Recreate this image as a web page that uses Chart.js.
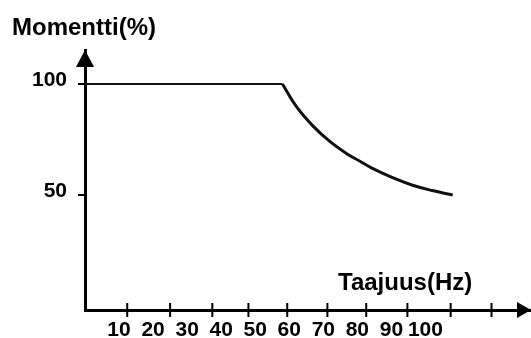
<!DOCTYPE html>
<html>
<head>
<meta charset="utf-8">
<script src="https://cdn.jsdelivr.net/npm/chart.js@4.4.1/dist/chart.umd.min.js"></script>
<style>
  body { margin: 0; background: #fff; }
  #wrap { width: 531px; height: 338px; position: relative; }
</style>
</head>
<body>
<div id="wrap"><canvas id="torque-chart"></canvas></div>
<script>
// values
let freqTicks = [10, 20, 30, 40, 50, 60, 70, 80, 90, 100];
let torqueTicks = [50, 100];
// the small marks on the x axis do not sit under the labels in the original
let tickMarkHz = [12.4, 25, 37.4, 48, 59.4, 71.2, 82.6, 94.7, 107.4, 119.4];

let flatHz = [0, 58];
let flatTorque = [100, 100];
let curveHz = [58, 62, 67, 72, 77, 81, 84, 90, 96, 102, 108];
let curveTorque = [100, 90, 81, 74, 68.5, 65, 62.3, 58, 54.5, 52, 50];

let yTitle = 'Momentti(%)';
let xTitle = 'Taajuus(Hz)';
let fontFamily = '"Liberation Sans", Arial, sans-serif';


let toPoints = function(xs, ys){
  return xs.map(function(x, i){ return {x: x, y: ys[i]}; });
};

// arrows, crossing tick marks and the two axis titles
let decorations = {
  id: 'decorations',
  afterDraw: function(chart){
    let c = chart.ctx;
    let area = chart.chartArea;
    let xs = chart.scales.x;

    c.save();
    c.strokeStyle = '#000';
    c.fillStyle = '#000';
    c.lineWidth = 2;

    tickMarkHz.forEach(function(v){
      let px = xs.getPixelForValue(v);
      c.beginPath();
      c.moveTo(px, area.bottom - 7);
      c.lineTo(px, area.bottom + 7);
      c.stroke();
    });

    c.beginPath();
    c.moveTo(area.left, area.top);
    c.lineTo(area.left - 9, area.top + 17);
    c.lineTo(area.left + 9, area.top + 17);
    c.closePath();
    c.fill();

    c.beginPath();
    c.moveTo(area.right, area.bottom);
    c.lineTo(area.right - 14, area.bottom - 8);
    c.lineTo(area.right - 14, area.bottom + 8);
    c.closePath();
    c.fill();

    c.font = 'bold 24px ' + fontFamily;
    c.textBaseline = 'alphabetic';
    c.textAlign = 'left';
    c.fillText(yTitle, 12, 35);
    c.fillText(xTitle, 338, 290);
    c.restore();
  }
};


let ctx = document.getElementById('torque-chart').getContext('2d');
new Chart(ctx, {
  type: 'line',
  data: {
    datasets: [
      {
        data: toPoints(flatHz, flatTorque),
        borderColor: '#111',
        borderWidth: 2,
        pointRadius: 0,
        tension: 0
      },
      {
        data: toPoints(curveHz, curveTorque),
        borderColor: '#111',
        borderWidth: 3,
        pointRadius: 0,
        tension: 0.4
      }
    ]
  },
  options: {
    responsive: true,
    maintainAspectRatio: false,
    animation: false,
    layout: { padding: { top: 50, left: 0, right: 0, bottom: 0 } },
    plugins: {
      legend: { display: false },
      tooltip: { enabled: false }
    },
    scales: {
      x: {
        type: 'linear',
        min: 0,
        max: 131,
        afterBuildTicks: function(scale){
          scale.ticks = freqTicks.map(function(v){ return {value: v}; });
        },
        afterFit: function(scale){ scale.height = 28; },
        grid: { display: false },
        border: { display: true, color: '#000', width: 3 },
        ticks: {
          padding: 0,
          color: '#000',
          maxRotation: 0,
          autoSkip: false,
          font: { family: fontFamily, size: 21, weight: 'bold' }
        }
      },
      y: {
        type: 'linear',
        min: -1.8,
        max: 115.3,
        afterBuildTicks: function(scale){
          scale.ticks = torqueTicks.map(function(v){ return {value: v}; });
        },
        afterFit: function(scale){ scale.width = 85; },
        grid: { drawOnChartArea: false, drawTicks: true, tickLength: 7, color: '#000', lineWidth: 2 },
        border: { display: true, color: '#000', width: 3 },
        ticks: {
          padding: 11,
          labelOffset: -4,
          color: '#000',
          font: { family: fontFamily, size: 21, weight: 'bold' }
        }
      }
    }
  },
  plugins: [decorations]
});
</script>
</body>
</html>
